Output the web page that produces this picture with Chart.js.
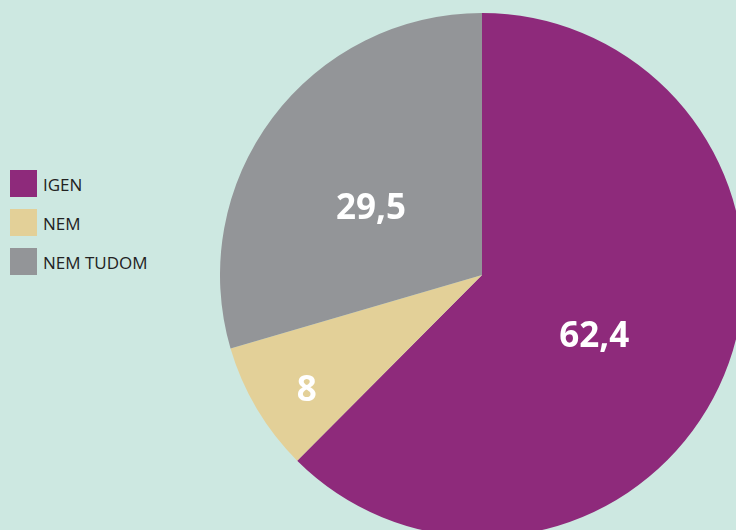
<!DOCTYPE html>
<html>
<head>
<meta charset="utf-8">
<script src="https://cdn.jsdelivr.net/npm/chart.js@4.4.0/dist/chart.umd.min.js"></script>
<style>
  html, body { margin: 0; padding: 0; }
  body {
    width: 736px; height: 530px; overflow: hidden; position: relative;
    background: #cde8e1; font-family: "Open Sans", "DejaVu Sans", sans-serif;
  }
  #pieWrap { position: absolute; left: 220px; top: 13px; width: 524px; height: 524px; }
  #legend { position: absolute; left: 10px; top: 170px; }
  .item { display: flex; align-items: center; height: 27px; margin-bottom: 12px; }
  .box { width: 27px; height: 27px; margin-right: 6px; }
  .txt { font-size: 17px; color: #222222; padding-top: 2px; }
</style>
</head>
<body>
<div id="legend"></div>
<div id="pieWrap"><canvas id="pieChart" width="524" height="524"></canvas></div>
<script>
const labels = ['IGEN', 'NEM', 'NEM TUDOM'];
const values = [62.4, 8, 29.5];
const colors = ['#8e2a7b', '#e3d098', '#939598'];
// how far out from the centre each value label sits (share of radius)
const labelRadius = [0.48, 0.76, 0.51];

// legend
const legend = document.getElementById('legend');
labels.forEach((l, i) => {
  legend.innerHTML += `<div class="item"><div class="box" style="background:${colors[i]}"></div><span class="txt">${l}</span></div>`;
});

const valueLabels = {
  id: 'valueLabels',
  afterDatasetsDraw(chart) {
    const ctx = chart.ctx;
    const meta = chart.getDatasetMeta(0);
    ctx.save();
    ctx.fillStyle = '#ffffff';
    ctx.font = 'bold 35px "Open Sans", "DejaVu Sans", sans-serif';
    ctx.textAlign = 'center';
    ctx.textBaseline = 'middle';
    meta.data.forEach((arc, i) => {
      const p = arc.getProps(['x', 'y', 'startAngle', 'endAngle', 'outerRadius'], true);
      const mid = (p.startAngle + p.endAngle) / 2;
      const r = p.outerRadius * labelRadius[i];
      const txt = String(values[i]).replace('.', ',');
      // labels sit a little below the slice's middle line
      ctx.fillText(txt, p.x + Math.cos(mid) * r - 4, p.y + Math.sin(mid) * r + 14);
    });
    ctx.restore();
  }
};

new Chart(document.getElementById('pieChart').getContext('2d'), {
  type: 'pie',
  data: {
    labels,
    datasets: [{
      data: values,
      backgroundColor: colors,
      borderWidth: 0
    }]
  },
  options: {
    responsive: false,
    devicePixelRatio: 1,
    animation: false,
    layout: { padding: 0 },
    plugins: {
      legend: { display: false },
      tooltip: { enabled: false }
    }
  },
  plugins: [valueLabels]
});
</script>
</body>
</html>
